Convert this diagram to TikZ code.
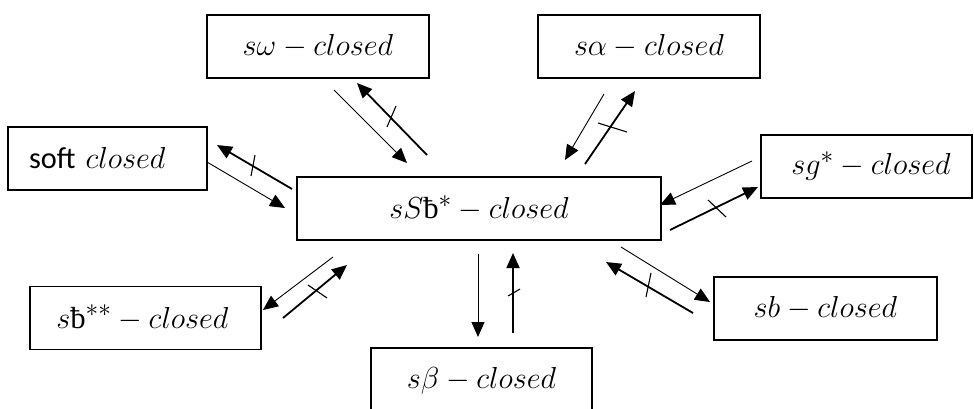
\documentclass[tikz,border=0pt]{standalone}
\usepackage{fontspec}
\setmainfont{Carlito}
\newfontfamily\strokefont{Liberation Serif}
\usetikzlibrary{arrows.meta}
% math italic at a large size: enlarge the 24.88pt setting uniformly
\newcommand{\lbl}[1]{\scalebox{1.22}{#1}}
\newcommand{\bstroke}{\mbox{\strokefont\fontsize{25}{30}\selectfont ƀ}}
\tikzset{
  setbox/.style={draw, line width=1.1pt, minimum height=63pt, inner sep=0pt,
    font=\fontsize{24.88}{30}\selectfont},
  thinarr/.style={line width=0.9pt, -{Triangle[length=15pt,width=13pt]}},
  thickarr/.style={line width=1.8pt, -{Triangle[length=15pt,width=13pt]}},
  tickmark/.style={line width=1.1pt}
}
\begin{document}
\begin{tikzpicture}[x=1pt,y=-1pt]
\useasboundingbox (0,0) rectangle (974,408);

% the sets
\node[setbox, minimum width=364pt] (c)  at (479,208.5) {\lbl{$sS\bstroke^{*}-closed$}};
\node[setbox, minimum width=222pt] (w)  at (318,46.5)  {\lbl{$s\omega-closed$}};
\node[setbox, minimum width=222pt] (al) at (649,46.5)  {\lbl{$s\alpha-closed$}};
\node[setbox, minimum width=199pt, text width=157pt, align=left] (so) at (107.5,158.5) {\lbl{soft $closed$}};
\node[setbox, minimum width=211pt] (g)  at (866.5,166.5) {\hspace{9pt}\lbl{$sg^{*}-closed$}};
\node[setbox, minimum width=223pt] (b)  at (825.5,308.5) {\lbl{$sb-closed$}};
\node[setbox, minimum width=231pt] (bb) at (145.5,318)  {\hspace{-6pt}\lbl{$s\bstroke^{**}-closed$}};
\node[setbox, minimum width=221pt, minimum height=66pt] (be) at (481.5,381) {\raisebox{3pt}{\lbl{$s\beta-closed$}}};

% arrow end points
\coordinate (so1) at (207,162); \coordinate (so2) at (285,208);
\coordinate (so3) at (292,189); \coordinate (so4) at (217,145);
\coordinate (so5) at (251,176); \coordinate (so6) at (255,155);

\coordinate (w1) at (334,90);  \coordinate (w2) at (407,163);
\coordinate (w3) at (427,155); \coordinate (w4) at (357,83);
\coordinate (w5) at (387,127); \coordinate (w6) at (396,106);

\coordinate (al1) at (604,94);  \coordinate (al2) at (565,160);
\coordinate (al3) at (585,164); \coordinate (al4) at (635,91);
\coordinate (al5) at (598,123); \coordinate (al6) at (627,132);

\coordinate (g1) at (752,161); \coordinate (g2) at (660,205);
\coordinate (g3) at (670,230); \coordinate (g4) at (758,187);
\coordinate (g5) at (708,200); \coordinate (g6) at (726,217);

\coordinate (b1) at (621,247); \coordinate (b2) at (710,302);
\coordinate (b3) at (693,313); \coordinate (b4) at (606,262);
\coordinate (b5) at (646,297); \coordinate (b6) at (651,273);

\coordinate (bb1) at (333,257); \coordinate (bb2) at (263,310);
\coordinate (bb3) at (283,318); \coordinate (bb4) at (347,265);
\coordinate (bb5) at (308,285); \coordinate (bb6) at (327,298);

\coordinate (be1) at (478,254); \coordinate (be2) at (478,337);
\coordinate (be3) at (513,333); \coordinate (be4) at (513,253);
\coordinate (be5) at (508,296); \coordinate (be6) at (520,289);

% implications (thin) and non-implications (thick, struck through)
\foreach \n in {so,w,al,g,b,bb,be}{
  \draw[thinarr]  (\n1) -- (\n2);
  \draw[thickarr] (\n3) -- (\n4);
  \draw[tickmark] (\n5) -- (\n6);
}
\end{tikzpicture}
\end{document}
